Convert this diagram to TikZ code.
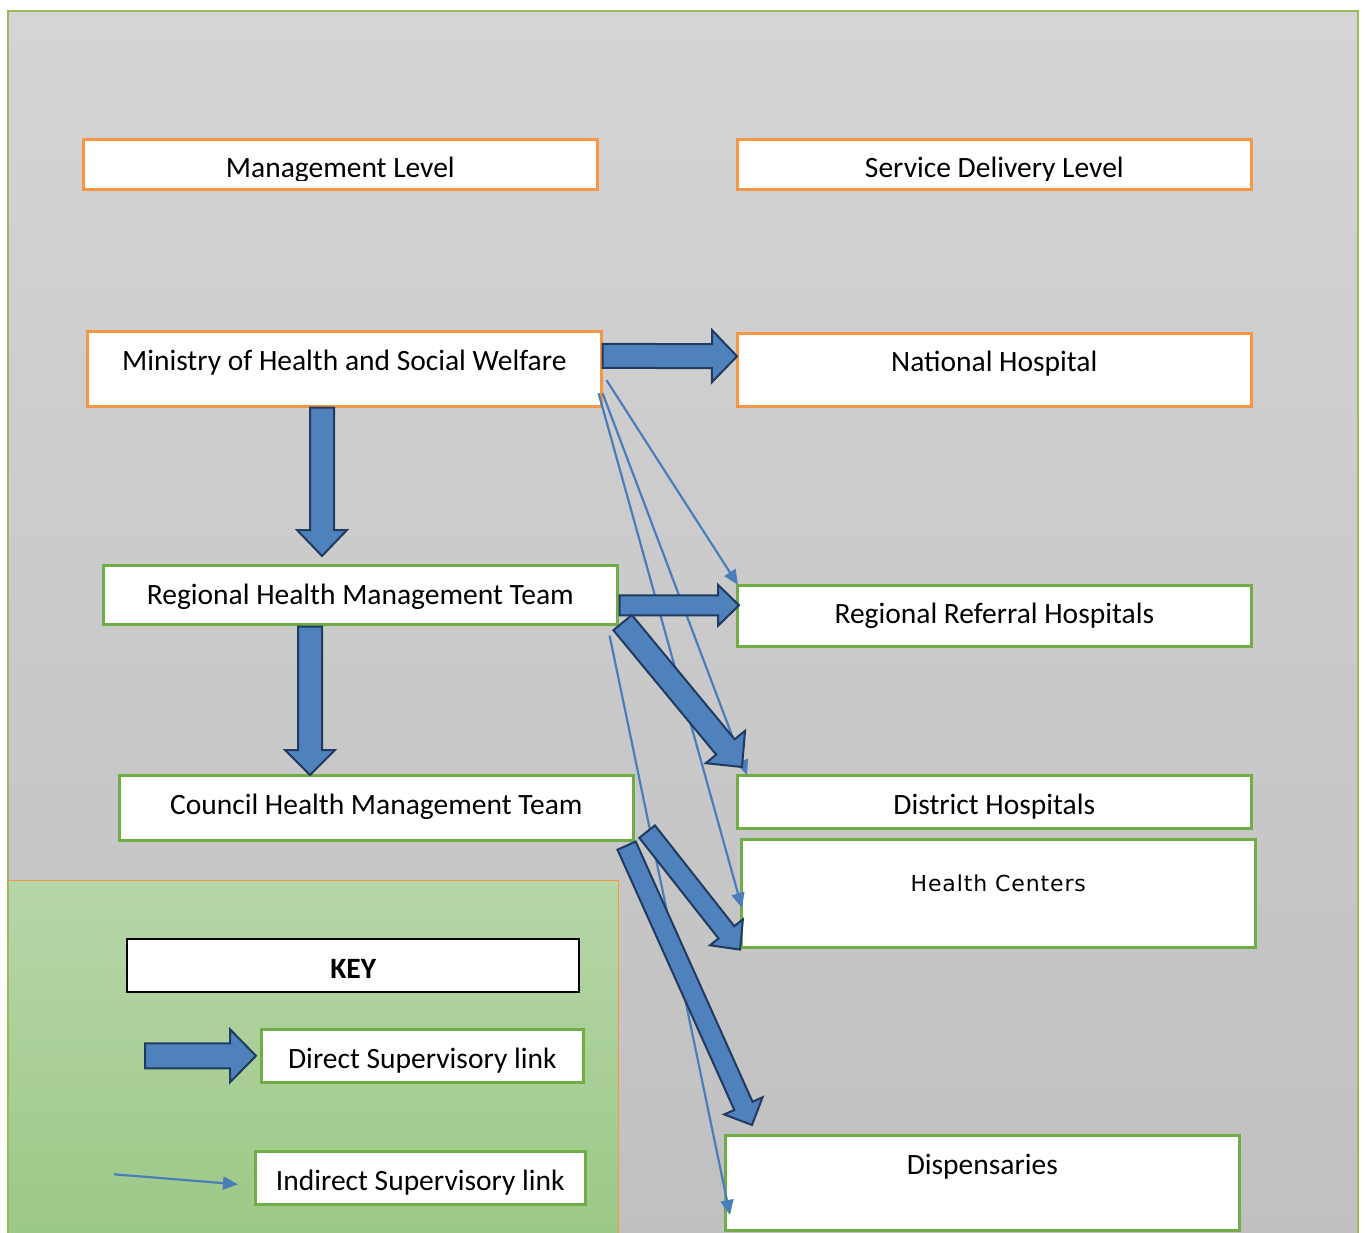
\documentclass[tikz,border=0pt]{standalone}
\usepackage{fontspec}
\setmainfont{Carlito}
\newfontfamily\hcfont[LetterSpace=4.0]{DejaVu Sans}
\usetikzlibrary{calc,arrows.meta}

\definecolor{bgtop}{HTML}{D4D4D4}
\definecolor{bgbot}{HTML}{C0C0C0}
\definecolor{framegreen}{HTML}{9BBB59}
\definecolor{keytop}{HTML}{B6D6A8}
\definecolor{keybot}{HTML}{9CC886}
\definecolor{boxorange}{HTML}{F79646}
\definecolor{boxgreen}{HTML}{70AD47}
\definecolor{linkfill}{HTML}{4F81BD}
\definecolor{linkedge}{HTML}{203A60}
\definecolor{thinblue}{HTML}{4A7EBB}

\tikzset{
  lvlbox/.style={rectangle, fill=white, line width=2.6pt, inner sep=0pt,
    minimum height=0pt, anchor=north west, font=\fontsize{29.5pt}{35pt}\selectfont},
  obox/.style={lvlbox, draw=boxorange},
  gbox/.style={lvlbox, draw=boxgreen},
  kbox/.style={lvlbox, draw=black, line width=2.4pt},
  directlink/.style={fill=linkfill, draw=linkedge, line width=2pt, line join=miter},
  indirectlink/.style={draw=thinblue, line width=2.2pt,
    -{Triangle[length=15pt,width=13pt]}},
}

% block arrow: start, tip, shaft half-width, head half-width, head length
\newcommand\directarrow[5]{%
  \coordinate (headbase) at ($(#2)!#5!(#1)$);
  \draw[directlink]
    ($(#1)!#3!90:(#2)$) -- ($(headbase)!#3!90:(#2)$) --
    ($(headbase)!#4!90:(#2)$) -- (#2) --
    ($(headbase)!#4!-90:(#2)$) -- ($(headbase)!#3!-90:(#2)$) --
    ($(#1)!#3!-90:(#2)$) -- cycle;
}

\begin{document}
\begin{tikzpicture}[x=1pt,y=-1pt]
\clip (0,0) rectangle (1365,1233);

% panel background and frame
\shade[top color=bgtop, bottom color=bgbot] (8,11) rectangle (1358,1245);
\draw[framegreen, line width=1.4pt] (8,1245) -- (8,11) -- (1358,11) -- (1358,1245);

% key panel
\shade[top color=keytop, bottom color=keybot] (9,880) rectangle (618,1245);
\draw[boxorange, line width=0.9pt] (9,880) -- (618,880) -- (618,1245);

% column headings (their descenders are cut off at the text frame)
\node[obox, minimum width=514pt, text height=38pt, text depth=12pt] (mgmt) at (82,138) {Management Level};
\node[obox, minimum width=514pt, text height=38pt, text depth=12pt] (sdl) at (736,138) {Service Delivery Level};
\fill[white] ($(mgmt.south west)+(3,-10)$) rectangle ($(mgmt.south east)+(-3,-2.5)$);
\fill[white] ($(sdl.south west)+(3,-10)$) rectangle ($(sdl.south east)+(-3,-2.5)$);

% management level
\node[obox, minimum width=514pt, text height=39pt, text depth=36pt] (moh) at (86,330) {Ministry of Health and Social Welfare};
\node[gbox, minimum width=514pt, text height=39pt, text depth=20pt] (rhmt) at (102,564) {Regional Health Management Team};
\node[gbox, minimum width=514pt, text height=39pt, text depth=26pt] (chmt) at (118,774) {Council Health Management Team};

% service delivery level
\node[obox, minimum width=514pt, text height=38pt, text depth=35pt] (nh) at (736,332) {National Hospital};
\node[gbox, minimum width=514pt, text height=38pt, text depth=23pt] (rrh) at (736,584) {Regional Referral Hospitals};
\node[gbox, minimum width=514pt, text height=39pt, text depth=14pt] (dh) at (736,774) {District Hospitals};
\node[gbox, minimum width=514pt, text height=52pt, text depth=56pt, font=\hcfont\fontsize{22pt}{26pt}\selectfont] (hc) at (740,838) {Health Centers};
\node[gbox, minimum width=514pt, text height=39pt, text depth=56pt] (disp) at (724,1134) {Dispensaries};

% key
\node[kbox, minimum width=452pt, text height=39pt, text depth=14pt, font=\bfseries\fontsize{29.5pt}{35pt}\selectfont] (key) at (126,938) {KEY};
\node[gbox, minimum width=322pt, text height=39pt, text depth=14pt] (kdirect) at (260,1028) {Direct Supervisory link};
\node[gbox, minimum width=330pt, text height=39pt, text depth=14pt] (kindirect) at (254,1150) {Indirect Supervisory link};

% indirect supervisory links
\draw[indirectlink] ($(moh.east)+(4,11.5)$) -- ($(rrh.north west)+(2,1)$);
\draw[indirectlink] ($(moh.east)+(0,24.5)$) -- ($(dh.north west)+(11,1)$);
\draw[indirectlink] ($(moh.east)+(-4,24.5)$) -- ($(hc.north west)+(2,70)$);
\draw[indirectlink] ($(rhmt.south east)+(-9,10)$) -- ($(disp.north west)+(6,81)$);
\draw[indirectlink] ($(kindirect.west)+(-140,-3.5)$) -- ($(kindirect.west)+(-16,6.5)$);

% direct supervisory links
\coordinate (d1s) at ($(moh.east)+(0,-13)$);
\coordinate (d1t) at ($(nh.west)+(1,-13.5)$);
\directarrow{d1s}{d1t}{12pt}{26pt}{25pt}

\coordinate (d2s) at ($(moh.south west)+(236,0)$);
\coordinate (d2t) at ($(rhmt.north west)+(220,-8)$);
\directarrow{d2s}{d2t}{12pt}{25pt}{26pt}

\coordinate (d3s) at ($(rhmt.east)+(1,10.5)$);
\coordinate (d3t) at ($(rrh.west)+(3,-10.5)$);
\directarrow{d3s}{d3t}{10pt}{20.5pt}{21pt}

\coordinate (d4s) at ($(rhmt.south east)+(4,-3)$);
\coordinate (d4t) at ($(dh.north west)+(6,-7)$);
\directarrow{d4s}{d4t}{12pt}{25.5pt}{26pt}

\coordinate (d5s) at ($(rhmt.south west)+(208,1)$);
\coordinate (d5t) at ($(chmt.north west)+(192,1)$);
\directarrow{d5s}{d5t}{12pt}{25pt}{25pt}

\coordinate (d6s) at ($(chmt.south east)+(12.5,-10)$);
\coordinate (d6t) at ($(hc.south west)+(0,1)$);
\directarrow{d6s}{d6t}{10pt}{21pt}{22pt}

\coordinate (d7s) at ($(chmt.south east)+(-8,4)$);
\coordinate (d7t) at ($(disp.north west)+(28,-9)$);
\directarrow{d7s}{d7t}{10pt}{21pt}{21pt}

\coordinate (k1s) at ($(kdirect.west)+(-115,0)$);
\coordinate (k1t) at ($(kdirect.west)+(-4,0)$);
\directarrow{k1s}{k1t}{12.5pt}{26.5pt}{26pt}
\end{tikzpicture}
\end{document}
